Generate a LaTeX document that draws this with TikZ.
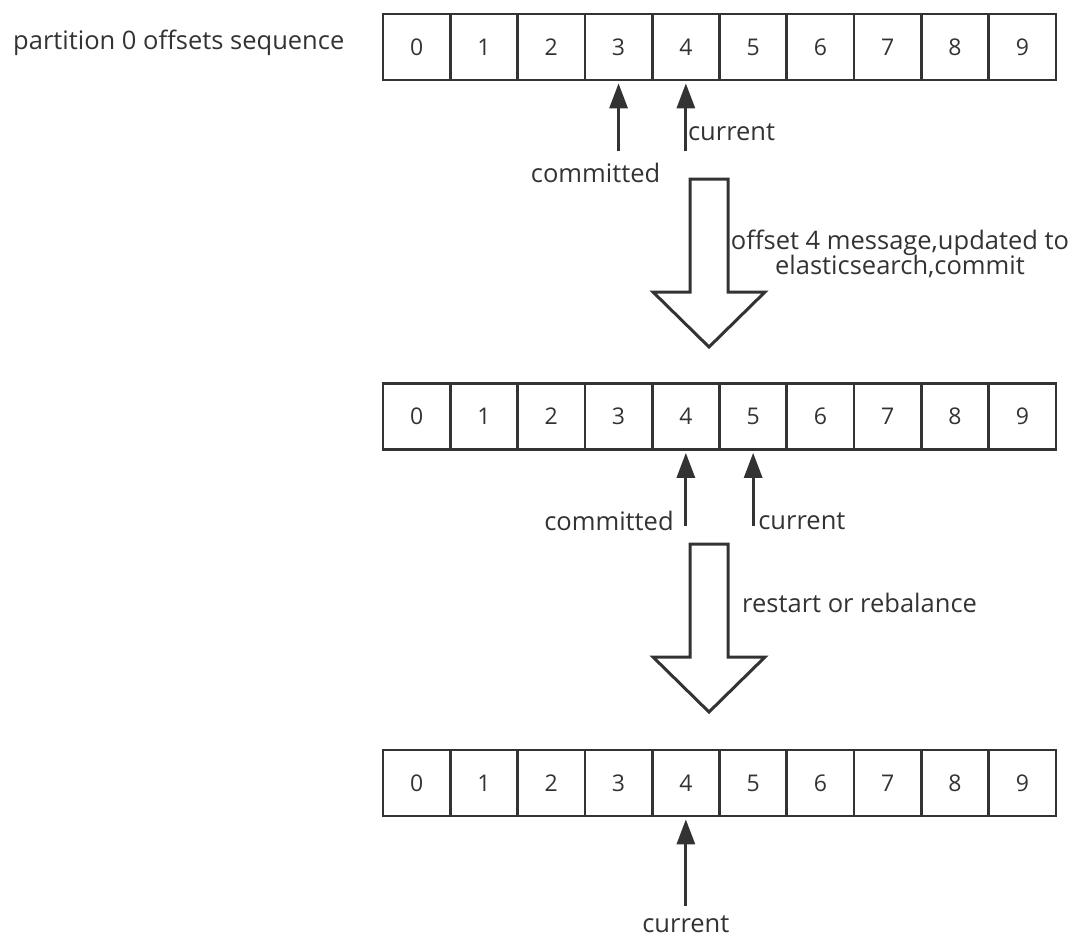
\documentclass[tikz,border=0pt]{standalone}
\usepackage{fontspec}
\setmainfont{Open Sans}
\usepackage{tikz}
\usetikzlibrary{calc,arrows.meta}
\definecolor{ink}{HTML}{333333}

\tikzset{
	cell/.style    = {draw=ink, line width=2.7pt, minimum width=67.3pt, minimum height=66pt, inner sep=0pt, text=ink, font=\fontsize{23}{26}\selectfont},
	pointer/.style = {draw=ink, line width=3pt, -{Triangle[length=25pt,width=18pt]}, shorten >=2pt},
	caption/.style = {inner sep=0pt, text=ink, font=\fontsize{25.5}{25.5}\selectfont},
	hollow/.style  = {draw=ink, line width=3pt, fill=white, line join=miter},
	bigarrow/.pic  = {\path[hollow] (-19,0) -- (19,0) -- (19,113) -- (56,113) -- (0,168) -- (-56,113) -- (-19,113) -- cycle;}
}

\begin{document}
\begin{tikzpicture}[x=1pt, y=-1pt]
	\useasboundingbox (0,0) rectangle (1074,940);

	% ---------------------
	% Offset sequences
	\coordinate (FirstRow)  at (416.65,47.0);
	\coordinate (SecondRow) at (416.65,416.5);
	\coordinate (ThirdRow)  at (416.65,783.0);

	\foreach \i in {0,...,9}{
		\node[cell] (First\i)  at ($(FirstRow)+(67.3*\i,0)$)  {\i};
		\node[cell] (Second\i) at ($(SecondRow)+(67.3*\i,0)$) {\i};
		\node[cell] (Third\i)  at ($(ThirdRow)+(67.3*\i,0)$)  {\i};
	}

	\node[caption, anchor=west] (Title) at (13,43) {partition 0 offsets sequence};

	% ---------------------
	% Before the commit
	\path (First3.south) +(0,70) coordinate (CommittedA);
	\path (First4.south) +(0,70) coordinate (CurrentA);
	\draw[pointer] (CommittedA) -- (First3.south);
	\draw[pointer] (CurrentA) -- (First4.south);
	\path (CommittedA) +(-23,22) node[caption] (CommittedALabel) {committed};
	\path (CurrentA) +(2,-19) node[caption, anchor=west] (CurrentALabel) {current};

	% ---------------------
	% After the commit
	\path (Second4.south) +(0,75) coordinate (CommittedB);
	\path (Second5.south) +(0,75) coordinate (CurrentB);
	\draw[pointer] (CommittedB) -- (Second4.south);
	\draw[pointer] (CurrentB) -- (Second5.south);
	\path (CommittedB) +(-12,-5) node[caption, anchor=east] (CommittedBLabel) {committed};
	\path (CurrentB) +(5,-5) node[caption, anchor=west] (CurrentBLabel) {current};

	% ---------------------
	% After the restart
	\path (Third4.south) +(0,89) coordinate (CurrentC);
	\draw[pointer] (CurrentC) -- (Third4.south);
	\path (CurrentC) +(0,18) node[caption] (CurrentCLabel) {current};

	% ------------------------------------------------
	% Transitions
	\coordinate (StepA) at (709,179);
	\coordinate (StepB) at (709,544);
	\pic at (StepA) {bigarrow};
	\pic at (StepB) {bigarrow};

	\node[caption, align=center] (StepALabel) at (900,254) {offset 4 message,updated to\\elasticsearch,commit};
	\node[caption, anchor=west] (StepBLabel) at (742,603) {restart or rebalance};

\end{tikzpicture}
\end{document}
